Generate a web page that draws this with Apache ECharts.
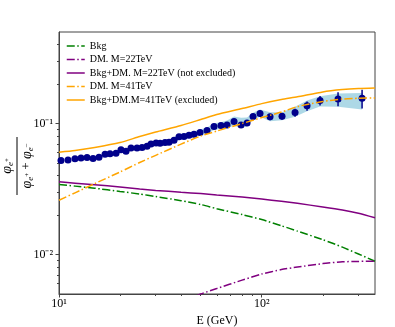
<!DOCTYPE html>
<html>
<head>
<meta charset="utf-8">
<script src="https://cdn.jsdelivr.net/npm/echarts@6/dist/echarts.min.js"></script>
<style>
  html, body { margin: 0; padding: 0; background: #fff; }
  #chart { width: 395px; height: 327px; }
</style>
</head>
<body>
<div id="chart"></div>
<script>
// measured positron fraction (points), errors and shaded band
const dataE = [10.23, 11.08, 11.99, 12.84, 13.75, 14.72, 15.75, 16.87, 17.85, 19.11, 20.22, 21.41, 22.66, 24.26, 25.68,
  27.18, 28.44, 30.11, 31.51, 33.35, 34.89, 36.94, 39.09, 41.37, 43.79, 46.35, 49.62, 53.73, 58.17, 62.98, 67.44,
  73.02, 79.06, 84.65, 90.6, 98.08, 109.9, 125.9, 146.0, 167.3, 193.9, 237.9, 312.6];
const dataV = [0.0522, 0.0528, 0.0538, 0.0547, 0.0550, 0.0540, 0.0553, 0.0583, 0.0587, 0.0593, 0.0630, 0.0615, 0.0652, 0.0652, 0.0656,
  0.0671, 0.0698, 0.0710, 0.0707, 0.0716, 0.0720, 0.0746, 0.0792, 0.0796, 0.0814, 0.0829, 0.0854, 0.0884, 0.0949, 0.0965, 0.0974,
  0.1036, 0.0977, 0.1012, 0.1131, 0.1192, 0.1125, 0.1137, 0.1213, 0.1365, 0.1498, 0.1543, 0.1560];
const dataErr = [0.0008, 0.0008, 0.0008, 0.0008, 0.0008, 0.0008, 0.0008, 0.0008, 0.0008, 0.0008, 0.0008, 0.0008, 0.0012, 0.0012, 0.0012,
  0.0012, 0.0012, 0.0012, 0.0012, 0.0012, 0.0012, 0.0012, 0.0018, 0.0018, 0.0018, 0.0018, 0.0018, 0.0018, 0.0025, 0.0028, 0.003,
  0.0035, 0.004, 0.0045, 0.0058, 0.007, 0.0065, 0.0067, 0.0085, 0.0112, 0.0122, 0.0188, 0.0255];
const bandLo = [null, null, null, null, null, null, null, null, null, null, null, null, null, null, null,
  0.0645, 0.0665, 0.0678, 0.0675, 0.0683, 0.0686, 0.0710, 0.0753, 0.0757, 0.0774, 0.0787, 0.0810, 0.0836, 0.0895, 0.0911, 0.0916,
  0.0965, 0.0927, 0.0949, 0.1073, 0.1125, 0.1041, 0.1060, 0.1125, 0.1241, 0.1348, 0.1341, 0.1279];
const bandHi = [null, null, null, null, null, null, null, null, null, null, null, null, null, null, null,
  0.0700, 0.0730, 0.0745, 0.0742, 0.0752, 0.0757, 0.0785, 0.0833, 0.0838, 0.0857, 0.0874, 0.0902, 0.0935, 0.1005, 0.1023, 0.1054,
  0.1131, 0.1106, 0.1111, 0.1207, 0.1279, 0.1220, 0.1220, 0.1341, 0.1498, 0.1616, 0.1695, 0.1715];

// model curves
const curveE = [10, 12, 15, 20, 25, 30, 40, 50, 60, 80, 100, 125, 150, 200, 250, 300, 362];
const bkg = [0.0342, 0.0333, 0.0321, 0.0303, 0.0290, 0.0277, 0.0258, 0.0241, 0.0224, 0.0202, 0.0185, 0.0166, 0.0151, 0.0130, 0.0114, 0.0101, 0.0089];
const dm22 = [null, null, null, null, null, 0.0037, 0.0043, 0.0050, 0.0055, 0.00638, 0.0071, 0.00768, 0.00803, 0.00853, 0.0088, 0.00887, 0.0089];
const bkgDm22 = [0.0359, 0.0351, 0.0341, 0.0328, 0.0317, 0.0309, 0.0299, 0.0292, 0.0285, 0.0275, 0.0265, 0.0255, 0.0246, 0.0231, 0.0219, 0.0207, 0.0191];
const dm41 = [0.0260, 0.0296, 0.0348, 0.0427, 0.0504, 0.0572, 0.0697, 0.0803, 0.0877, 0.1000, 0.1111, 0.1224, 0.1348, 0.1472, 0.1538, 0.1560, 0.1570];
const bkgDm41 = [0.0604, 0.0622, 0.0656, 0.0716, 0.0796, 0.0861, 0.0965, 0.1073, 0.1171, 0.1302, 0.1420, 0.1525, 0.1600, 0.1745, 0.1816, 0.1850, 0.1867];

const seriesNames = ['Bkg', 'DM. M=22TeV', 'Bkg+DM. M=22TeV (not excluded)', 'DM. M=41TeV', 'Bkg+DM.M=41TeV (excluded)'];
const xMajor = [10, 100];
const xMinor = [20, 30, 40, 50, 60, 70, 80, 90, 200, 300];
const yMajor = [0.01, 0.1];
const yMinor = [0.006, 0.007, 0.008, 0.009, 0.02, 0.03, 0.04, 0.05, 0.06, 0.07, 0.08, 0.09, 0.2, 0.3, 0.4];

const FONT = 'Liberation Serif';
const AXIS_COLOR = '#444';
const DASHDOT = [8, 2.5, 1.5, 2.5];

function pairs(xs, ys) {
  return xs.map((x, i) => [x, ys[i]]);
}

const SUP = { '-': '\u207b', '1': '\u00b9', '2': '\u00b2', '3': '\u00b3' };
function powLabel(v) {
  const e = String(Math.round(Math.log10(v)));
  return '10' + e.split('').map(c => SUP[c] || c).join('');
}

const chart = echarts.init(document.getElementById('chart'), null, { renderer: 'canvas' });

const bandData = dataE.map((e, i) => [e, bandLo[i], bandHi[i]]).filter(d => d[1] != null);

const lineDefs = [
  { data: bkg, color: '#008000', type: DASHDOT },
  { data: dm22, color: '#800080', type: DASHDOT },
  { data: bkgDm22, color: '#800080', type: 'solid' },
  { data: dm41, color: '#ffa500', type: DASHDOT },
  { data: bkgDm41, color: '#ffa500', type: 'solid' }
];

chart.setOption({
  animation: false,
  backgroundColor: '#fff',
  grid: {
    left: 59, right: 20, top: 32, bottom: 33,
    show: true, borderColor: AXIS_COLOR, borderWidth: 1,
    containLabel: false, outerBoundsMode: 'none'
  },
  legend: {
    data: seriesNames.map((n, i) => ({
      name: n,
      lineStyle: { color: lineDefs[i].color, width: 1.5, type: lineDefs[i].type }
    })),
    orient: 'vertical',
    left: 61, top: 36,
    itemWidth: 18, itemHeight: 9, itemGap: 3.5,
    itemStyle: { opacity: 0 },
    textStyle: { fontFamily: FONT, fontSize: 10, color: '#000' },
    selectedMode: false
  },
  xAxis: [
    {
      type: 'log', logBase: 10, min: 10, max: 362,
      name: 'E (GeV)', nameLocation: 'middle', nameGap: 16,
      nameTextStyle: { fontFamily: FONT, fontSize: 12, color: '#000' },
      axisLine: { show: true, lineStyle: { color: AXIS_COLOR, width: 1 } },
      axisTick: { show: true, length: 3.5, customValues: xMajor, lineStyle: { color: AXIS_COLOR } },
      axisLabel: {
        customValues: xMajor, margin: 4, formatter: powLabel,
        fontFamily: FONT, fontSize: 12, color: '#000'
      },
      splitLine: { show: false }
    },
    {
      type: 'log', logBase: 10, min: 10, max: 362, position: 'bottom',
      axisLine: { show: false },
      axisTick: { show: true, length: 2, customValues: xMinor, lineStyle: { color: AXIS_COLOR } },
      axisLabel: { show: false },
      splitLine: { show: false }
    }
  ],
  yAxis: [
    {
      type: 'log', logBase: 10, min: 0.005, max: 0.5,
      axisLine: { show: true, lineStyle: { color: AXIS_COLOR, width: 1 } },
      axisTick: { show: true, length: 3.5, customValues: yMajor, lineStyle: { color: AXIS_COLOR } },
      axisLabel: {
        customValues: yMajor, margin: 6, formatter: powLabel,
        fontFamily: FONT, fontSize: 12, color: '#000'
      },
      splitLine: { show: false }
    },
    {
      type: 'log', logBase: 10, min: 0.005, max: 0.5, position: 'left',
      axisLine: { show: false },
      axisTick: { show: true, length: 2, customValues: yMinor, lineStyle: { color: AXIS_COLOR } },
      axisLabel: { show: false },
      splitLine: { show: false }
    }
  ],
  graphic: [
    {
      type: 'group',
      x: 17, y: 166,
      rotation: Math.PI / 2,
      children: [
        { type: 'line', shape: { x1: -29, y1: 0, x2: 29, y2: 0 }, style: { stroke: '#000', lineWidth: 1 } },
        {
          type: 'text', x: 0, y: -2,
          style: {
            text: '{p|\u03c6}{s|e}{t|+}', align: 'center', verticalAlign: 'bottom',
            rich: {
              p: { fontFamily: FONT, fontStyle: 'italic', fontSize: 14, fill: '#000', lineHeight: 16 },
              s: { fontFamily: FONT, fontStyle: 'italic', fontSize: 9, fill: '#000', verticalAlign: 'bottom' },
              t: { fontFamily: FONT, fontSize: 7, fill: '#000', verticalAlign: 'middle' }
            }
          }
        },
        {
          type: 'text', x: 0, y: 2,
          style: {
            text: '{p|\u03c6}{s|e}{t|+}{o| + }{p|\u03c6}{s|e}{t|\u2212}', align: 'center', verticalAlign: 'top',
            rich: {
              p: { fontFamily: FONT, fontStyle: 'italic', fontSize: 14, fill: '#000', lineHeight: 16 },
              s: { fontFamily: FONT, fontStyle: 'italic', fontSize: 9, fill: '#000', verticalAlign: 'bottom' },
              t: { fontFamily: FONT, fontSize: 7, fill: '#000', verticalAlign: 'middle' },
              o: { fontFamily: FONT, fontSize: 13, fill: '#000' }
            }
          }
        }
      ]
    }
  ],
  series: [
    {
      type: 'custom', name: 'band', silent: true, z: 1,
      data: bandData,
      renderItem(params, api) {
        if (params.dataIndex !== 0) return null;
        const top = bandData.map(d => api.coord([d[0], d[2]]));
        const bot = bandData.map(d => api.coord([d[0], d[1]])).reverse();
        return {
          type: 'polygon',
          shape: { points: top.concat(bot) },
          style: { fill: '#add8e6' }
        };
      }
    },
    {
      type: 'custom', name: 'errors', silent: true, z: 2,
      data: dataE.map((e, i) => [e, dataV[i] - dataErr[i], dataV[i] + dataErr[i]]),
      renderItem(params, api) {
        const p1 = api.coord([api.value(0), api.value(1)]);
        const p2 = api.coord([api.value(0), api.value(2)]);
        return {
          type: 'line',
          shape: { x1: p1[0], y1: p1[1], x2: p2[0], y2: p2[1] },
          style: { stroke: '#00008b', lineWidth: 1.5 }
        };
      }
    },
    {
      type: 'scatter', name: 'data', z: 3,
      data: pairs(dataE, dataV),
      symbol: 'circle', symbolSize: 7,
      itemStyle: { color: '#00008b', opacity: 1 }
    }
  ].concat(lineDefs.map((d, i) => ({
    type: 'line', name: seriesNames[i], z: 4, data: pairs(curveE, d.data),
    symbol: 'none', showSymbol: false, smooth: 0.2, clip: true,
    lineStyle: { color: d.color, width: 1.5, type: d.type },
    itemStyle: { color: d.color }
  })))
});
</script>
</body>
</html>
